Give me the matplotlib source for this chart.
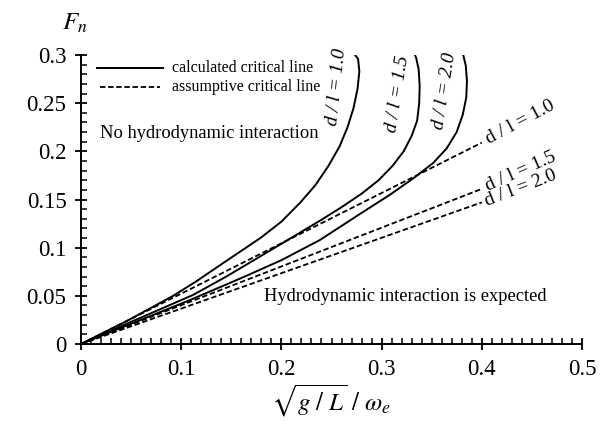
import matplotlib
matplotlib.use('Agg')
import matplotlib.pyplot as plt

plt.rcParams['font.family'] = ['Liberation Serif', 'DejaVu Serif']
plt.rcParams['mathtext.fontset'] = 'stix'

# calculated critical lines (solid)
x_10 = [0, 0.046, 0.092, 0.115, 0.139, 0.179, 0.2, 0.219, 0.234, 0.247, 0.258, 0.266, 0.272, 0.276, 0.2778, 0.2765, 0.2735]
y_10 = [0, 0.024, 0.050, 0.065, 0.082, 0.110, 0.127, 0.147, 0.165, 0.185, 0.205, 0.225, 0.245, 0.265, 0.283, 0.296, 0.300]
x_15 = [0, 0.05, 0.112, 0.145, 0.179, 0.2385, 0.26, 0.28, 0.297, 0.311, 0.322, 0.33, 0.3355, 0.3375, 0.338, 0.337, 0.3345, 0.3333]
y_15 = [0, 0.023, 0.051, 0.070, 0.091, 0.128, 0.142, 0.156, 0.170, 0.185, 0.200, 0.216, 0.232, 0.250, 0.268, 0.285, 0.297, 0.300]
x_20 = [0, 0.05, 0.105, 0.159, 0.2, 0.2385, 0.2784, 0.3084, 0.3317, 0.3516, 0.3649, 0.3749, 0.381, 0.3845, 0.3852, 0.384, 0.3815]
y_20 = [0, 0.021, 0.044, 0.068, 0.087, 0.108, 0.135, 0.155, 0.172, 0.188, 0.203, 0.220, 0.238, 0.256, 0.273, 0.289, 0.300]

# assumptive critical lines (dashed), start and end points
dash_x = [0, 0.40]
dash_10 = [0, 0.209]
dash_15 = [0, 0.161]
dash_20 = [0, 0.147]

ratio_labels = ['1.0', '1.5', '2.0']
xticks = [0, 0.1, 0.2, 0.3, 0.4, 0.5]
xtick_labels = ['0', '0.1', '0.2', '0.3', '0.4', '0.5']
yticks = [0, 0.05, 0.1, 0.15, 0.2, 0.25, 0.3]
ytick_labels = ['0', '0.05', '0.1', '0.15', '0.2', '0.25', '0.3']

DASH = (0, (3, 1.5))

fig = plt.figure(figsize=(6.06, 4.24), dpi=100)
ax = fig.add_axes([81 / 606, 1 - 344 / 424, 501 / 606, 289 / 424])

for xs, ys in [(x_10, y_10), (x_15, y_15), (x_20, y_20)]:
    ax.plot(xs, ys, color='black', lw=1.4, solid_joinstyle='round', solid_capstyle='round')
for ys in [dash_10, dash_15, dash_20]:
    ax.plot(dash_x, ys, color='black', lw=1.3, ls=DASH)

# legend drawn by hand
ax.plot([0.016, 0.082], [0.2866, 0.2866], color='black', lw=1.4, clip_on=False)
ax.plot([0.019, 0.079], [0.267, 0.267], color='black', lw=1.3, ls=DASH, clip_on=False)
ax.text(0.091, 0.2866, 'calculated critical line', fontsize=11.5, va='center')
ax.text(0.091, 0.267, 'assumptive critical line', fontsize=11.5, va='center')

ax.text(0.019, 0.219, 'No hydrodynamic interaction', fontsize=13.3, va='center')
ax.text(0.465, 0.049, 'Hydrodynamic interaction is expected', fontsize=13.3, va='center', ha='right')

# labels on solid curves
for (xc, yc, rot), lab in zip([(0.255, 0.267, 84), (0.316, 0.260, 81), (0.363, 0.263, 81)], ratio_labels):
    ax.text(xc, yc, 'd / l = ' + lab, fontsize=14, rotation=rot, style='italic',
            ha='center', va='center', rotation_mode='anchor')

# labels on dashed lines
for (xc, yc, rot), lab in zip([(0.405, 0.212, 28), (0.404, 0.163, 24), (0.404, 0.148, 21)], ratio_labels):
    ax.text(xc, yc, 'd / l = ' + lab, fontsize=14, rotation=rot,
            ha='left', va='center', rotation_mode='anchor')

ax.set_xlim(0, 0.5)
ax.set_ylim(0, 0.3)
ax.set_xticks(xticks)
ax.set_xticklabels(xtick_labels)
ax.set_xticks([i / 100 for i in range(51)], minor=True)
ax.set_yticks(yticks)
ax.set_yticklabels(ytick_labels)
ax.set_yticks([i / 100 for i in range(31)], minor=True)
ax.tick_params(which='major', direction='inout', length=9, width=1.3, labelsize=16.5, pad=6)
ax.tick_params(which='minor', direction='in', length=4.5, width=1.1)
for s in ['top', 'right']:
    ax.spines[s].set_visible(False)
for s in ['left', 'bottom']:
    ax.spines[s].set_linewidth(1.4)

ax.set_xlabel(r'$\sqrt{g\ /\ L}\ /\ \omega_e$', fontsize=18, labelpad=2)
ax.text(-0.006, 0.333, r'$F_n$', fontsize=18, ha='center', va='center', clip_on=False)

fig.savefig('out.png', dpi=100)
